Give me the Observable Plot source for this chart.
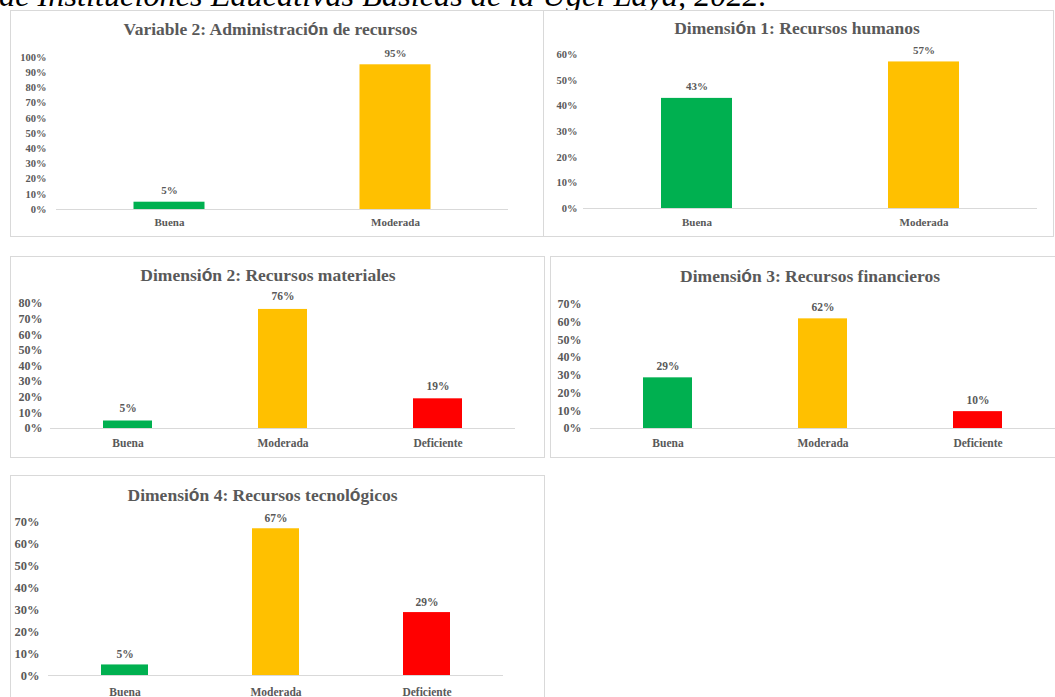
<!DOCTYPE html>
<html>
<head>
<meta charset="utf-8">
<script src="https://cdn.jsdelivr.net/npm/d3@7"></script>
<script src="https://cdn.jsdelivr.net/npm/@observablehq/plot@0.6"></script>
<style>
  body { margin: 0; background: #fff; }
  #page { position: relative; width: 1055px; height: 697px; overflow: hidden; background: #fff;
          font-family: "Liberation Serif", "Times New Roman", serif; }
  .caption { position: absolute; left: -1px; top: -21px; font-style: italic; font-size: 32.3px;
             line-height: 1; white-space: nowrap; color: #000; }
  .panel { position: absolute; border: 1px solid #d9d9d9; box-sizing: border-box; background: #fff; overflow: hidden; }
  .panel svg { position: absolute; left: 0; top: 0; }
  .title { position: absolute; font-weight: bold; font-size: 17.5px; line-height: 1; color: #595959;
           white-space: nowrap; transform: translateX(-50%); z-index: 2; }
  .title .o { font-family: "Liberation Sans", Arial, sans-serif; }
</style>
</head>
<body>
<div id="page">
  <div class="caption">de Instituciones Educativas Básicas de la Ugel Laya, 2022.</div>
</div>
<script>
// ---- Data ----
const categoriasDos = ["Buena", "Moderada"];
const categoriasTres = ["Buena", "Moderada", "Deficiente"];
const colores = ["#00B050", "#FFC000", "#FF0000"];

const variable2 = [0.048, 0.952];
const dimension1 = [0.429, 0.571];
const dimension2 = [0.048, 0.762, 0.190];
const dimension3 = [0.286, 0.619, 0.0952];
const dimension4 = [0.048, 0.667, 0.286];

const ticks100 = [0, 0.1, 0.2, 0.3, 0.4, 0.5, 0.6, 0.7, 0.8, 0.9, 1.0];
const ticks80 = [0, 0.1, 0.2, 0.3, 0.4, 0.5, 0.6, 0.7, 0.8];
const ticks70 = [0, 0.1, 0.2, 0.3, 0.4, 0.5, 0.6, 0.7];
const ticks60 = [0, 0.1, 0.2, 0.3, 0.4, 0.5, 0.6];

const titulos = [
  "Variable 2: Administración de recursos",
  "Dimensión 1: Recursos humanos",
  "Dimensión 2: Recursos materiales",
  "Dimensión 3: Recursos financieros",
  "Dimensión 4: Recursos tecnológicos"
];

// ---- Layout (positions & styles only) ----
const paneles = [
  {titulo: titulos[0], categorias: categoriasDos, valores: variable2, ticks: ticks100, max: 1.0,
   left: 10, top: 10, w: 534, h: 227, mL: 45, mR: 35, mT: 46, mB: 27,
   tx: 259.5, tb: 25, padY: 10, padX: 9, inset: 77.5, gap: 8, fsTick: 10.5, fsCat: 11, fsVal: 11},
  {titulo: titulos[1], categorias: categoriasDos, valores: dimension1, ticks: ticks60, max: 0.6,
   left: 543, top: 10, w: 511, h: 227, mL: 39, mR: 16, mT: 43, mB: 28,
   tx: 253, tb: 24, padY: 6, padX: 10, inset: 78, gap: 8, fsTick: 10.5, fsCat: 11, fsVal: 11},
  {titulo: titulos[2], categorias: categoriasTres, valores: dimension2, ticks: ticks80, max: 0.8,
   left: 10, top: 256, w: 535, h: 202, mL: 39, mR: 29, mT: 46, mB: 29,
   tx: 257, tb: 25, padY: 8, padX: 10, inset: 53, gap: 9, fsTick: 12, fsCat: 11.5, fsVal: 11.5},
  {titulo: titulos[3], categorias: categoriasTres, valores: dimension3, ticks: ticks70, max: 0.7,
   left: 550, top: 256, w: 520, h: 202, mL: 39, mR: 14, mT: 47, mB: 29,
   tx: 259, tb: 26, padY: 9, padX: 10, inset: 53, gap: 8, fsTick: 12, fsCat: 11.5, fsVal: 11.5},
  {titulo: titulos[4], categorias: categoriasTres, valores: dimension4, ticks: ticks70, max: 0.7,
   left: 10, top: 475, w: 535, h: 240, mL: 37, mR: 41, mT: 45, mB: 39,
   tx: 251.5, tb: 26, padY: 9, padX: 12, inset: 52, gap: 7, fsTick: 12.5, fsCat: 11.5, fsVal: 11.5}
];

const fmt = d3.format(".0%");
const page = document.getElementById("page");

function tituloNodo(texto) {
  const el = document.createElement("div");
  el.className = "title";
  for (const ch of texto) {
    if (ch === "ó") {
      const s = document.createElement("span");
      s.className = "o";
      s.textContent = ch;
      el.appendChild(s);
    } else {
      el.appendChild(document.createTextNode(ch));
    }
  }
  return el;
}

for (const p of paneles) {
  const data = p.categorias.map((c, i) => ({categoria: c, valor: p.valores[i], color: colores[i]}));
  const box = document.createElement("div");
  box.className = "panel";
  Object.assign(box.style, {left: p.left + "px", top: p.top + "px", width: p.w + "px", height: p.h + "px"});

  const t = tituloNodo(p.titulo);
  t.style.left = p.tx + "px";
  t.style.top = (p.tb - 14.7) + "px";
  box.appendChild(t);

  const chart = Plot.plot({
    width: p.w - 2,
    height: p.h - 2,
    marginLeft: p.mL, marginRight: p.mR, marginTop: p.mT, marginBottom: p.mB,
    style: {fontFamily: "'Liberation Serif', 'Times New Roman', serif", fontWeight: "bold",
            color: "#595959", background: "transparent", overflow: "visible"},
    x: {domain: p.categorias, padding: 0, label: null},
    y: {domain: [0, p.max], label: null},
    color: {type: "identity"},
    marks: [
      Plot.ruleY([0], {stroke: "#d9d9d9", strokeWidth: 1}),
      Plot.barY(data, {x: "categoria", y: "valor", fill: "color", insetLeft: p.inset, insetRight: p.inset}),
      Plot.text(data, {x: "categoria", y: "valor", text: d => fmt(d.valor), lineAnchor: "bottom",
                       dy: -p.gap, fontSize: p.fsVal, fill: "#595959"}),
      Plot.axisY({ticks: p.ticks, tickFormat: d3.format(".0%"), tickSize: 0, tickPadding: p.padY,
                  fontSize: p.fsTick, label: null}),
      Plot.axisX({tickSize: 0, tickPadding: p.padX, fontSize: p.fsCat, label: null})
    ]
  });
  box.appendChild(chart);
  page.appendChild(box);
}
</script>
</body>
</html>
